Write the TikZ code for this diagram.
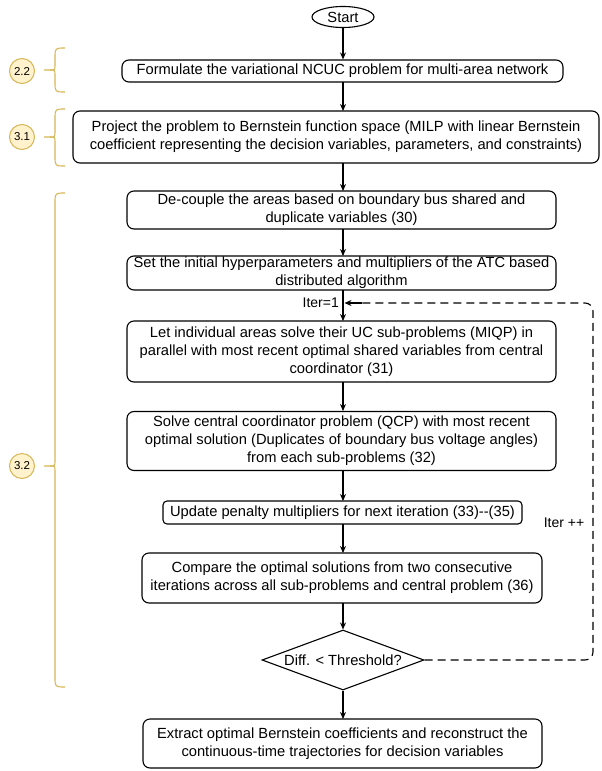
\documentclass[tikz,border=0pt]{standalone}
\usepackage{fontspec}
\setmainfont{Liberation Sans}
\usetikzlibrary{shapes.geometric,arrows.meta}
\definecolor{gold}{RGB}{214,182,86}
\definecolor{lightgold}{RGB}{255,242,204}
\tikzset{
  box/.style={draw, rounded corners=7pt, line width=1.1pt, align=center, inner sep=0pt,
    font=\fontsize{14.7}{18}\selectfont},
  lbl/.style={inner sep=1pt, font=\fontsize{14}{17}\selectfont},
  num/.style={circle, draw=gold, fill=lightgold, line width=1pt, minimum size=25pt, inner sep=0pt,
    font=\fontsize{11.5}{13}\selectfont},
  brace/.style={draw=gold, line width=1.1pt},
  arr/.style={-{Stealth[length=7pt,width=6pt]}, line width=1.1pt},
  dsh/.style={dash pattern=on 8pt off 5pt, line width=1.1pt}
}
\begin{document}
\begin{tikzpicture}[x=1pt,y=-1pt]
\useasboundingbox (0,0) rectangle (602,771);
% nodes
\node[draw, ellipse, line width=1.1pt, minimum width=62pt, minimum height=21pt, inner sep=0pt,
  font=\fontsize{14.7}{18}\selectfont] (start) at (343,17) {Start};
\node[box, minimum width=441pt, minimum height=22pt] (b1) at (342.5,71)
  {Formulate the variational NCUC problem for multi-area network};
\node[box, minimum width=526pt, minimum height=52pt] (b2) at (336,137)
  {Project the problem to Bernstein function space (MILP with linear Bernstein\\coefficient representing the decision variables, parameters, and constraints)};
\node[box, minimum width=429pt, minimum height=38pt] (b3) at (341.5,210)
  {De-couple the areas based on boundary bus shared and\\duplicate variables (30)};
\node[box, minimum width=429pt, minimum height=34pt] (b4) at (341.5,273)
  {Set the initial hyperparameters and multipliers of the ATC based\\distributed algorithm};
\node[box, minimum width=429pt, minimum height=61pt] (b5) at (341.5,351.5)
  {Let individual areas solve their UC sub-problems (MIQP) in\\parallel with most recent optimal shared variables from central\\coordinator (31)};
\node[box, minimum width=429pt, minimum height=59pt] (b6) at (341.5,441)
  {Solve central coordinator problem (QCP) with most recent\\optimal solution (Duplicates of boundary bus voltage angles)\\from each sub-problems (32)};
\node[box, rounded corners=4pt, minimum width=359pt, minimum height=23pt] (b7) at (342.5,512.5)
  {Update penalty multipliers for next iteration (33){-}{-}(35)};
\node[box, minimum width=400pt, minimum height=50pt] (b8) at (342,578)
  {Compare the optimal solutions from two consecutive\\iterations across all sub-problems and central problem (36)};
\node[draw, diamond, aspect=2.7, line width=1.1pt, minimum width=162pt, minimum height=60pt, inner sep=0pt,
  font=\fontsize{14.7}{18}\selectfont] (dia) at (343,660) {\makebox[0pt]{Diff. < Threshold?}};
\node[box, minimum width=399pt, minimum height=49pt] (b9) at (342.5,743.5)
  {Extract optimal Bernstein coefficients and reconstruct the\\continuous-time trajectories for decision variables};
% connectors
\draw[arr] (start.south) -- (start.south |- b1.north);
\draw[arr] (343,82) -- (343,111);
\draw[arr] (343,163) -- (343,191);
\draw[arr] (343,229) -- (343,256);
\draw[arr] (343,290) -- (343,321);
\draw[arr] (343,382) -- (343,411);
\draw[arr] (343,470.5) -- (343,501);
\draw[arr] (343,524) -- (343,553);
\draw[arr] (343,603) -- (dia.north);
\draw[arr] (dia.south) -- (343,719);
\coordinate (join) at (344.5,303);
\draw[dsh, rounded corners=8pt] (dia.east) -- (593,660) -- (593,303) -- (360,303);
\draw[arr] (362,303) -- (join);
\node[lbl, anchor=east] (iterone) at (340,303) {Iter=1};
\node[lbl] (iterpp) at (564,523) {Iter ++};
% number circles
\node[num] (n22) at (22,71) {2.2};
\node[num] (n31) at (22,137) {3.1};
\node[num] (n32) at (22,466) {3.2};
% braces
\draw[brace] (65,48) .. controls (55,48) .. (55,58) -- (55,64) .. controls (55,70) .. (50,70) -- (44,70);
\draw[brace] (65,92) .. controls (55,92) .. (55,82) -- (55,76) .. controls (55,70) .. (50,70);
\draw[brace] (65,109) .. controls (55,109) .. (55,119) -- (55,131) .. controls (55,137) .. (50,137) -- (44,137);
\draw[brace] (65,166) .. controls (55,166) .. (55,156) -- (55,143) .. controls (55,137) .. (50,137);
\draw[brace] (65,193) .. controls (55,193) .. (55,203) -- (55,460) .. controls (55,466) .. (50,466) -- (44,466);
\draw[brace] (65,687) .. controls (55,687) .. (55,677) -- (55,472) .. controls (55,466) .. (50,466);
\end{tikzpicture}
\end{document}
